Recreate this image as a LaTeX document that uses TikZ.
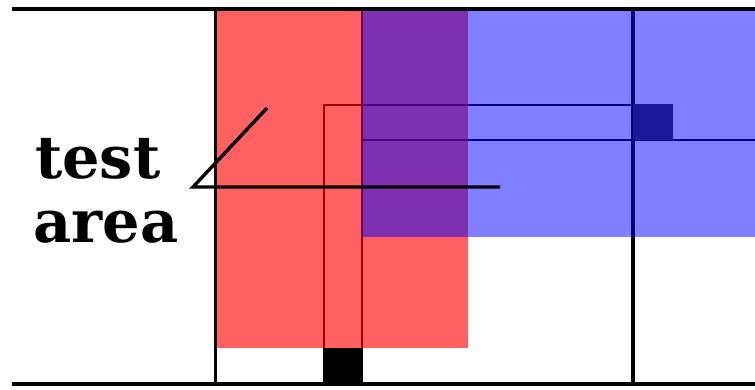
\documentclass[tikz,border=0pt]{standalone}
\usepackage{fontspec}
\newfontfamily\labelfont{DejaVu Serif}
\usetikzlibrary{positioning}

\begin{document}
\begin{tikzpicture}[
  x=1pt, y=-1pt,
  frame/.style={draw=black, line width=4pt},
  wire/.style={draw=black, line width=1.8pt},
  redarea/.style={fill=red, fill opacity=0.62},
  bluearea/.style={fill=blue, fill opacity=0.5},
  lbl/.style={font=\labelfont\bfseries\fontsize{59}{64}\selectfont,
              inner sep=0pt, anchor=base west},
  leader/.style={draw=black, line width=3.4pt},
]
\useasboundingbox (0,0) rectangle (755,389);

% lines underneath the shaded areas
\draw[wire] (324,383) -- (324,105) -- (633,105);
\draw[wire] (362,9) -- (362,383);
\draw[wire, line width=2.8pt] (362,140) -- (755,140);
\draw[wire, line width=3.6pt] (633,9) -- (633,383);
\fill[black!80] (633,104) rectangle (673,140);

% test areas
\path[redarea] (215,9) rectangle (468,348);
\path[bluearea] (362,9) rectangle (755,237);

% frame
\draw[frame] (12,9) -- (755,9);
\draw[frame] (12,384) -- (755,384);
\draw[wire, line width=3pt] (215,9) -- (215,384);
\fill[black] (324,348) rectangle (362,383);

\node[lbl] (test) at (35,178) {test};
\node[lbl] (area) at (33,242) {area};

\coordinate (tip) at (267,108);
\coordinate (knee) at (193,187);
\coordinate (tail) at (500,187);
\draw[leader] (tip) -- (knee) -- (tail);

\end{tikzpicture}
\end{document}
